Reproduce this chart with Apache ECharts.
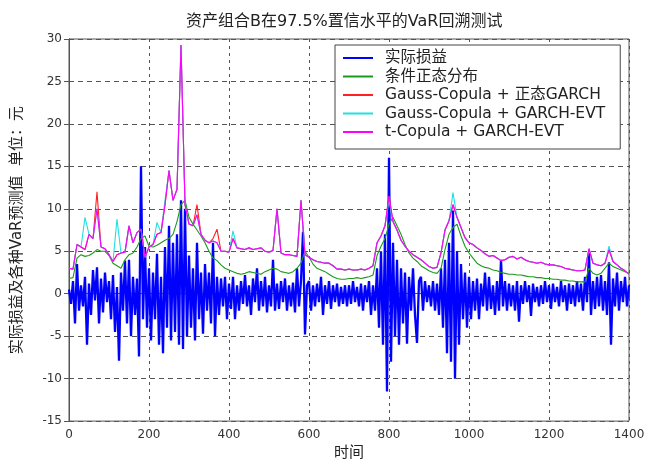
<!DOCTYPE html>
<html><head><meta charset="utf-8">
<script src="https://cdn.jsdelivr.net/npm/echarts@6/dist/echarts.min.js"></script>
<style>html,body{margin:0;padding:0;background:#fff}#c{width:648px;height:466px}</style>
</head><body><div id="c"></div>
<script>
const TITLE = '资产组合B在97.5%置信水平的VaR回溯测试';
const X_NAME = '时间';
const Y_NAME = '实际损益及各种VaR预测值  单位：元';
const SERIES_NAMES = ['实际损益', '条件正态分布', 'Gauss-Copula + 正态GARCH', 'Gauss-Copula + GARCH-EVT', 't-Copula + GARCH-EVT'];
const BLUE_STEP = 5;   // time units between actual P&L samples
const VAR_STEP = 10;   // time units between VaR samples

const actualPL = [
 0.5,-1.2,1.5,-3.5,3.5,-2.0,1.0,-1.5,2.0,-6.0,1.2,-2.5,2.8,-0.8,3.1,-3.5,1.8,-2.2,2.5,-1.0,
 1.5,-3.0,2.2,-4.5,0.8,-7.9,2.5,-2.0,3.9,-3.5,4.0,-5.0,2.0,-2.5,1.8,-7.4,15.0,-3.0,5.5,-4.0,
 3.0,-5.5,2.5,-3.0,4.7,-6.0,2.0,-7.0,5.5,-4.0,8.0,-5.5,6.0,-4.5,7.0,-6.0,11.0,-6.5,10.0,-5.0,
 4.5,-4.0,3.0,-5.5,6.0,-3.0,2.5,-4.7,3.5,-2.0,2.5,-3.5,6.0,-5.0,2.0,-2.5,1.8,-1.5,2.0,-3.0,
 1.2,-1.8,2.0,-3.0,1.0,-2.0,1.5,-1.2,2.2,-1.5,1.0,-2.5,1.8,-1.0,3.0,-2.0,1.5,-1.5,2.0,-2.2,
 1.0,-1.5,4.0,-2.0,1.2,-1.8,1.5,-1.0,1.8,-2.0,1.0,-1.5,1.3,-2.2,3.0,-1.5,1.5,7.3,-4.8,1.0,
 1.5,-2.0,1.0,-1.5,1.2,-1.0,2.0,-2.5,1.0,-1.2,1.5,-1.8,1.0,-1.0,1.2,-1.5,0.8,-1.2,1.0,-1.5,
 1.0,-1.2,1.5,-1.0,0.8,-1.5,1.2,-2.0,1.0,-1.0,1.5,-2.5,1.0,-2.0,3.0,-4.0,5.0,-6.0,7.0,-11.5,
 16.0,-8.0,6.0,-5.0,4.0,-6.0,3.0,-3.5,2.5,-5.9,2.0,-2.0,3.0,-2.5,-5.8,1.5,2.0,-2.0,1.5,-1.0,
 1.0,-1.5,1.5,-2.0,1.2,-2.5,3.0,-4.0,4.0,-7.0,6.0,-8.0,9.8,-10.0,5.0,-6.0,3.5,-3.0,2.5,-4.0,
 2.0,-3.0,1.5,-2.0,1.8,-3.0,1.2,-1.5,2.5,-2.0,2.0,-1.8,1.0,-2.5,1.5,-2.0,4.0,-1.5,1.5,-2.0,
 1.2,-1.5,1.0,-2.0,1.5,-3.3,1.0,-1.2,1.5,-1.0,1.0,-2.6,1.2,-1.0,0.8,-1.5,1.0,-1.2,1.5,-1.0,
 1.0,-1.8,1.2,-1.0,0.8,-1.5,1.5,-1.0,1.0,-2.0,1.2,-1.2,1.0,-1.5,1.5,-1.0,1.2,-2.0,2.0,-1.0,
 4.8,-2.5,1.5,-1.8,2.0,-1.5,2.2,-2.0,1.5,-2.5,3.7,-6.0,1.8,-1.5,2.5,-2.0,1.5,-1.0,2.0,-1.5,
 1.0
];

const normalVaR = [
 1.8,1.9,4.2,4.6,4.4,4.5,4.8,5.2,5.0,5.0,
 4.5,3.6,3.3,3.0,4.0,4.6,4.8,5.5,6.5,6.8,
 5.6,5.5,5.7,6.0,6.3,6.5,7.0,8.5,10.5,11.0,
 9.0,8.2,7.5,6.8,6.0,5.0,4.2,3.9,3.4,3.0,
 2.8,2.6,2.4,2.3,2.4,2.6,2.5,2.4,2.3,2.6,
 2.8,3.0,2.9,2.6,2.5,2.4,2.6,3.0,3.6,5.0,
 4.3,3.5,3.0,2.8,2.6,2.3,2.0,1.8,1.7,1.7,
 1.8,1.8,1.9,1.8,1.9,2.0,2.2,4.5,5.6,6.5,
 8.2,9.0,8.0,7.0,5.8,4.8,4.2,3.8,3.3,3.0,
 2.7,2.5,2.4,3.0,5.2,7.0,7.8,8.2,6.8,5.6,
 4.8,4.2,3.6,3.3,3.1,3.0,2.8,2.7,2.5,2.4,
 2.3,2.3,2.2,2.2,2.1,2.0,2.0,1.9,1.9,1.8,
 1.8,1.7,1.7,1.6,1.6,1.5,1.5,1.4,1.4,1.4,
 3.0,2.4,2.2,2.4,3.0,3.6,3.2,3.0,2.8,2.6,
 2.4
];

const gaussGarchVaR = [
 3.0,2.9,5.8,5.5,5.2,7.0,6.5,12.0,5.5,5.3,
 4.6,3.8,4.6,4.8,4.9,8.0,6.0,7.2,7.6,4.3,
 5.5,5.8,7.0,7.2,10.5,14.5,11.0,12.3,29.3,10.5,
 8.2,8.0,10.5,7.0,6.3,6.0,6.5,7.6,5.0,5.0,
 4.9,6.5,5.4,5.3,5.2,5.4,5.2,5.3,5.4,5.0,
 4.9,5.1,10.0,4.8,4.6,4.6,4.5,4.4,11.0,4.6,
 4.3,4.0,3.8,3.7,3.6,3.6,3.3,2.9,2.9,2.8,
 2.9,2.8,2.8,2.9,2.8,3.0,3.3,6.0,6.8,8.0,
 11.5,8.5,7.5,6.3,5.6,5.0,4.6,4.3,4.0,3.6,
 3.2,3.0,3.1,4.8,7.5,8.6,10.5,9.0,7.8,6.6,
 6.0,5.8,5.4,5.1,4.7,4.4,4.5,4.2,3.9,4.0,
 4.3,4.4,4.1,4.3,4.0,3.8,3.7,3.6,3.7,3.5,
 3.4,3.4,3.3,3.2,3.0,2.9,2.8,2.7,2.7,2.8,
 5.3,3.6,3.4,3.3,3.6,5.2,3.8,3.4,3.0,2.7,
 2.3
];

const gaussEvtVaR = [
 3.0,2.9,5.8,5.5,9.0,7.0,6.5,10.0,5.5,5.3,
 4.6,3.8,8.8,4.8,4.9,8.0,6.0,7.2,7.6,4.3,
 5.5,5.8,8.4,7.2,11.0,14.5,11.0,12.3,29.3,10.5,
 8.2,8.0,9.3,7.0,6.3,6.0,6.2,6.0,5.0,5.0,
 4.9,7.4,5.4,5.3,5.2,5.4,5.2,5.3,5.4,5.0,
 4.9,5.1,10.0,4.8,4.6,4.6,4.5,4.4,11.0,4.6,
 4.3,4.0,3.8,3.7,3.6,3.6,3.3,2.9,2.9,2.8,
 2.9,2.8,2.8,2.9,2.8,3.0,3.3,6.0,6.8,8.0,
 11.0,8.5,7.5,6.3,5.6,5.0,4.6,4.3,4.0,3.6,
 3.2,3.0,3.1,4.8,7.5,8.6,11.9,9.0,7.8,6.6,
 6.0,5.8,5.4,5.1,4.7,4.4,4.5,4.2,3.9,4.0,
 4.3,4.4,4.1,4.3,4.0,3.8,3.7,3.6,3.7,3.5,
 3.4,3.4,3.3,3.2,3.0,2.9,2.8,2.7,2.7,2.8,
 5.3,3.6,3.4,3.3,3.6,5.6,3.8,3.4,3.0,2.7,
 2.3
];

const tCopulaVaR = [
 3.0,2.9,5.8,5.5,5.2,7.0,6.5,10.0,5.5,5.3,
 4.6,3.8,4.6,4.8,4.9,8.0,6.0,7.2,7.6,4.3,
 5.5,5.8,7.0,7.2,10.5,14.5,11.0,12.3,29.3,10.5,
 8.2,8.0,9.3,7.0,6.3,6.0,6.2,6.0,5.0,5.0,
 4.9,6.5,5.4,5.3,5.2,5.4,5.2,5.3,5.4,5.0,
 4.9,5.1,10.0,4.8,4.6,4.6,4.5,4.4,11.0,4.6,
 4.3,4.0,3.8,3.7,3.6,3.6,3.3,2.9,2.9,2.8,
 2.9,2.8,2.8,2.9,2.8,3.0,3.3,6.0,6.8,8.0,
 11.5,8.5,7.5,6.3,5.6,5.0,4.6,4.3,4.0,3.6,
 3.2,3.0,3.1,4.8,7.5,8.6,10.5,9.0,7.8,6.6,
 6.0,5.8,5.4,5.1,4.7,4.4,4.5,4.2,3.9,4.0,
 4.3,4.4,4.1,4.3,4.0,3.8,3.7,3.6,3.7,3.5,
 3.4,3.4,3.3,3.2,3.0,2.9,2.8,2.7,2.7,2.8,
 5.3,3.6,3.4,3.3,3.6,5.2,3.8,3.4,3.0,2.7,
 2.3
];

const X_MIN = 0, X_MAX = 1400, X_INTERVAL = 200;
const Y_MIN = -15, Y_MAX = 30, Y_INTERVAL = 5;

function pairs(arr, step) { return arr.map((v, i) => [i * step, v]); }

const FONT = '"DejaVu Sans", "Noto Sans CJK SC", sans-serif';
const COLORS = ['#0000ff', '#1a9a1a', '#ff2020', '#20e0e0', '#ff00ff'];
const WIDTHS = [2.3, 1.1, 1.1, 1.1, 1.1];
const DATA = [pairs(actualPL, BLUE_STEP), pairs(normalVaR, VAR_STEP), pairs(gaussGarchVaR, VAR_STEP), pairs(gaussEvtVaR, VAR_STEP), pairs(tCopulaVaR, VAR_STEP)];

const chart = echarts.init(document.getElementById('c'), null, {renderer: 'canvas'});
const axisCommon = {
  axisLine: {show: true, lineStyle: {color: '#555', width: 1}},
  axisTick: {show: true, inside: true, length: 5, lineStyle: {color: '#555'}},
};
chart.setOption({
  animation: false,
  backgroundColor: '#fff',
  title: {text: TITLE, left: 181, top: 9, textStyle: {fontFamily: FONT, fontSize: 16, fontWeight: 'normal', color: '#222'}},
  grid: {left: 69, right: 19, top: 39, bottom: 36, show: true, borderColor: '#555', borderWidth: 1, backgroundColor: 'transparent'},
  legend: {
    orient: 'vertical', left: 335, top: 45, icon: 'rect',
    padding: [5, 15, 9, 8], itemGap: 2.5, itemWidth: 30, itemHeight: 2,
    backgroundColor: '#fff', borderColor: '#444', borderWidth: 1,
    textStyle: {fontFamily: FONT, fontSize: 15.5, color: '#222', lineHeight: 16, padding: [0, 0, 0, 7]},
    data: SERIES_NAMES
  },
  xAxis: [
    Object.assign({type: 'value', min: X_MIN, max: X_MAX, interval: X_INTERVAL, position: 'bottom',
      name: X_NAME, nameLocation: 'middle', nameGap: 22,
      nameTextStyle: {fontFamily: FONT, fontSize: 15, color: '#222'},
      axisLabel: {fontFamily: FONT, fontSize: 12, color: '#333', margin: 8, formatter: v => String(v)},
      splitLine: {show: true, lineStyle: {color: '#555', type: [3, 4], width: 1}}}, axisCommon),
    Object.assign({type: 'value', min: X_MIN, max: X_MAX, interval: X_INTERVAL, position: 'top',
      axisLabel: {show: false}, splitLine: {show: false}}, axisCommon)
  ],
  yAxis: [
    Object.assign({type: 'value', min: Y_MIN, max: Y_MAX, interval: Y_INTERVAL, position: 'left',
      name: Y_NAME, nameLocation: 'middle', nameGap: 44, nameRotate: 90,
      nameTextStyle: {fontFamily: FONT, fontSize: 15, color: '#222'},
      axisLabel: {fontFamily: FONT, fontSize: 12, color: '#333', margin: 7},
      splitLine: {show: true, lineStyle: {color: '#555', type: [5, 4], width: 1}}}, axisCommon),
    Object.assign({type: 'value', min: Y_MIN, max: Y_MAX, interval: Y_INTERVAL, position: 'right',
      axisLabel: {show: false}, splitLine: {show: false}}, axisCommon)
  ],
  series: SERIES_NAMES.map((name, k) => ({
    name, type: 'line', xAxisIndex: 0, yAxisIndex: 0,
    data: DATA[k], symbol: 'none', showSymbol: false,
    lineStyle: {color: COLORS[k], width: WIDTHS[k]}, itemStyle: {color: COLORS[k]},
    z: 2 + k, silent: true
  }))
});
</script></body></html>
